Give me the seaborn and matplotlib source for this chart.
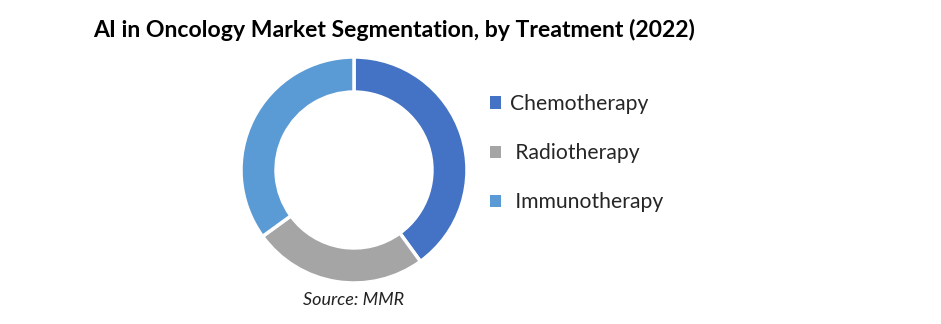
import matplotlib
matplotlib.use("Agg")
import matplotlib.pyplot as plt
import seaborn as sns
from matplotlib.patches import Patch

categories = ["Chemotherapy", "Radiotherapy", "Immunotherapy"]
legend_labels = ["Chemotherapy", " Radiotherapy", " Immunotherapy"]
shares = [40, 25, 35]
colors = ["#4472C4", "#A5A5A5", "#5B9BD5"]

sns.set_theme(style="white")
plt.rcParams["font.family"] = ["Lato", "DejaVu Sans"]

W, H = 941, 324
fig = plt.figure(figsize=(W / 100, H / 100), dpi=100)
cx, cy, r = 354, 170, 113
ax = fig.add_axes([(cx - r) / W, (H - cy - r) / H, 2 * r / W, 2 * r / H])
ax.pie(shares, colors=colors, startangle=90, counterclock=False, radius=1,
       wedgeprops=dict(width=0.31, edgecolor="white", linewidth=2.5))
ax.set_xlim(-1, 1)
ax.set_ylim(-1, 1)
ax.set_aspect("equal")
ax.axis("off")

fig.text(93 / W, 1 - 30 / H, "AI in Oncology Market Segmentation, by Treatment (2022)",
         fontsize=16.6, fontweight="bold", color="black", va="center", ha="left")
fig.text(cx / W, 1 - 300 / H, "Source: MMR", fontsize=13, style="italic",
         color="#222222", ha="center", va="center")

handles = [Patch(facecolor=c, edgecolor="none") for c in colors]
fig.legend(handles, legend_labels, loc="upper left",
           bbox_to_anchor=(490 / W, 1 - 94 / H), frameon=False,
           fontsize=15.2, handlelength=0.5, handleheight=0.5,
           handletextpad=0.45, labelspacing=1.38, borderpad=0, borderaxespad=0)

fig.savefig("out.png", dpi=100, facecolor="white")
